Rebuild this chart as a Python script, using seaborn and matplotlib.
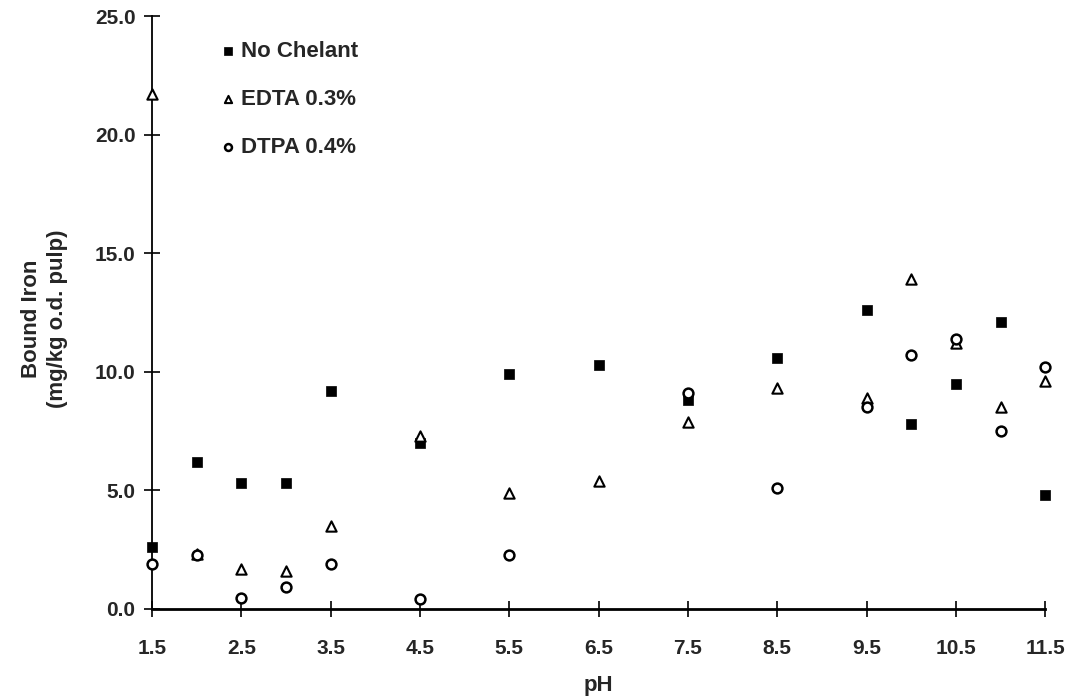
import pandas as pd
import matplotlib
matplotlib.use("Agg")
import matplotlib.pyplot as plt
import seaborn as sns

# pH values for each series
ph_none = [1.5, 2.0, 2.5, 3.0, 3.5, 4.5, 5.5, 6.5, 7.5, 8.5, 9.5, 10.0, 10.5, 11.0, 11.5]
iron_none = [2.6, 6.2, 5.3, 5.3, 9.2, 7.0, 9.9, 10.3, 8.8, 10.6, 12.6, 7.8, 9.5, 12.1, 4.8]

ph_edta = [1.5, 2.0, 2.5, 3.0, 3.5, 4.5, 5.5, 6.5, 7.5, 8.5, 9.5, 10.0, 10.5, 11.0, 11.5]
iron_edta = [21.7, 2.3, 1.7, 1.6, 3.5, 7.3, 4.9, 5.4, 7.9, 9.3, 8.9, 13.9, 11.2, 8.5, 9.6]

ph_dtpa = [1.5, 2.0, 2.5, 3.0, 3.5, 4.5, 5.5, 7.5, 8.5, 9.5, 10.0, 10.5, 11.0, 11.5]
iron_dtpa = [1.9, 2.25, 0.45, 0.9, 1.9, 0.4, 2.25, 9.1, 5.1, 8.5, 10.7, 11.4, 7.5, 10.2]

x_ticks = [1.5, 2.5, 3.5, 4.5, 5.5, 6.5, 7.5, 8.5, 9.5, 10.5, 11.5]
y_ticks = [0, 5, 10, 15, 20, 25]

df_none = pd.DataFrame({'pH': ph_none, 'iron': iron_none})
df_edta = pd.DataFrame({'pH': ph_edta, 'iron': iron_edta})
df_dtpa = pd.DataFrame({'pH': ph_dtpa, 'iron': iron_dtpa})

sns.set_style("white")
plt.rcParams['font.family'] = ['Liberation Sans', 'DejaVu Sans']
plt.rcParams['font.weight'] = 'bold'

fig = plt.figure(figsize=(10.71, 6.99), dpi=100)
ax = fig.add_axes([0.142, 0.129, 0.834, 0.848])

sns.scatterplot(data=df_none, x='pH', y='iron', marker='s', s=60, color='black',
                edgecolor='black', linewidth=0.5, label='No Chelant', ax=ax,
                zorder=3, clip_on=False)
sns.scatterplot(data=df_edta, x='pH', y='iron', marker='^', s=55, facecolor='white',
                edgecolor='black', linewidth=1.5, label='EDTA 0.3%', ax=ax,
                zorder=3, clip_on=False)
sns.scatterplot(data=df_dtpa, x='pH', y='iron', marker='o', s=50, facecolor='white',
                edgecolor='black', linewidth=1.8, label='DTPA 0.4%', ax=ax,
                zorder=3, clip_on=False)

ax.set_xlim(1.5, 11.5)
ax.set_ylim(0, 25)
ax.set_xticks(x_ticks)
ax.set_xticklabels([f"{v:.1f}" for v in x_ticks], fontsize=15, fontweight='bold')
ax.set_yticks(y_ticks)
ax.set_yticklabels([f"{v:.1f}" for v in y_ticks], fontsize=15, fontweight='bold')
ax.tick_params(axis='both', direction='inout', length=12, width=1.2, color='black',
               left=True, bottom=True)
ax.tick_params(axis='y', pad=6)
ax.tick_params(axis='x', pad=16)

sns.despine(ax=ax)
for side in ['left', 'bottom']:
    ax.spines[side].set_color('black')
ax.spines['left'].set_linewidth(1.3)
ax.spines['bottom'].set_linewidth(2.0)

ax.set_xlabel('pH', fontsize=16, fontweight='bold', labelpad=12)
ax.set_ylabel('Bound Iron\n(mg/kg o.d. pulp)', fontsize=16, fontweight='bold',
              linespacing=1.3)
ax.yaxis.set_label_coords(-0.094, 0.49)

leg = ax.legend(loc='upper left', bbox_to_anchor=(0.05, 0.992), frameon=False,
                prop={'size': 16, 'weight': 'bold'}, labelspacing=1.22,
                handletextpad=0.1, markerscale=0.7, handlelength=1.0)

ax.grid(False)
fig.savefig('out.png', dpi=100)
